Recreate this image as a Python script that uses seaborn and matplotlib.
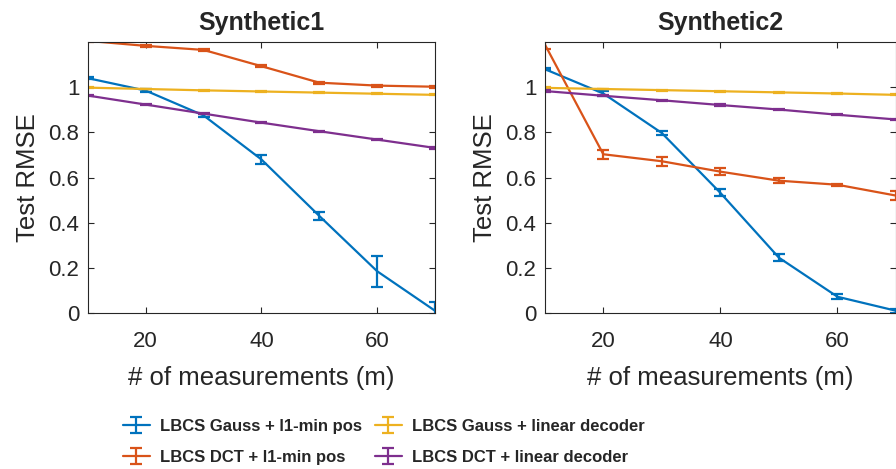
import numpy as np
import pandas as pd
import seaborn as sns
import matplotlib.pyplot as plt

# measurements
m = [10, 20, 30, 40, 50, 60, 70]

names = ['LBCS Gauss + l1-min pos', 'LBCS DCT + l1-min pos',
         'LBCS Gauss + linear decoder', 'LBCS DCT + linear decoder']
colors = ['#0072BD', '#D95319', '#EDB120', '#7E2F8E']

# Synthetic1 (mean, error)
s1_gauss_l1 = [1.04, 0.985, 0.875, 0.68, 0.43, 0.185, 0.01]
s1_gauss_l1_err = [0.004, 0.006, 0.008, 0.018, 0.018, 0.068, 0.04]
s1_dct_l1 = [1.205, 1.183, 1.165, 1.093, 1.02, 1.007, 1.002]
s1_dct_l1_err = [0.004, 0.005, 0.005, 0.005, 0.005, 0.004, 0.004]
s1_gauss_lin = [0.998, 0.992, 0.986, 0.981, 0.976, 0.971, 0.966]
s1_gauss_lin_err = [0.002, 0.002, 0.002, 0.002, 0.002, 0.002, 0.002]
s1_dct_lin = [0.963, 0.923, 0.883, 0.843, 0.805, 0.768, 0.731]
s1_dct_lin_err = [0.003, 0.003, 0.003, 0.003, 0.003, 0.003, 0.003]

# Synthetic2 (mean, error)
s2_gauss_l1 = [1.08, 0.972, 0.797, 0.532, 0.245, 0.072, 0.01]
s2_gauss_l1_err = [0.004, 0.01, 0.01, 0.015, 0.015, 0.01, 0.008]
s2_dct_l1 = [1.19, 0.703, 0.672, 0.626, 0.586, 0.568, 0.52]
s2_dct_l1_err = [0.02, 0.02, 0.02, 0.015, 0.01, 0.005, 0.02]
s2_gauss_lin = [0.997, 0.992, 0.987, 0.982, 0.977, 0.972, 0.966]
s2_gauss_lin_err = [0.002, 0.002, 0.002, 0.002, 0.002, 0.002, 0.002]
s2_dct_lin = [0.983, 0.962, 0.942, 0.921, 0.901, 0.878, 0.857]
s2_dct_lin_err = [0.003, 0.003, 0.003, 0.003, 0.003, 0.003, 0.003]

panels = [
    ('Synthetic1', [(s1_gauss_l1, s1_gauss_l1_err), (s1_dct_l1, s1_dct_l1_err),
                    (s1_gauss_lin, s1_gauss_lin_err), (s1_dct_lin, s1_dct_lin_err)]),
    ('Synthetic2', [(s2_gauss_l1, s2_gauss_l1_err), (s2_dct_l1, s2_dct_l1_err),
                    (s2_gauss_lin, s2_gauss_lin_err), (s2_dct_lin, s2_dct_lin_err)]),
]

sns.set_theme(style='ticks')
plt.rcParams['font.family'] = ['Liberation Sans', 'DejaVu Sans']
ink = '#262626'

fig = plt.figure(figsize=(8.96, 4.69), dpi=100)
axes = [fig.add_axes([0.098, 0.3326, 0.3875, 0.5778]),
        fig.add_axes([0.608, 0.3326, 0.392, 0.5778])]

handles = []
for ax, (title, series) in zip(axes, panels):
    hs = []
    for name, col, (y, e) in zip(names, colors, series):
        df = pd.DataFrame({'m': m, 'rmse': y})
        sns.lineplot(data=df, x='m', y='rmse', ax=ax, color=col, lw=1.6,
                     legend=False)
        line = ax.lines[-1]
        eb = ax.errorbar(m, y, yerr=e, fmt='none', ecolor=col, elinewidth=1.6,
                         capsize=4.5, capthick=1.6)
        hs.append((line, eb))
    handles = hs
    ax.set_xlim(10, 70)
    ax.set_ylim(0, 1.2)
    ax.set_xticks([20, 40, 60])
    ax.set_yticks([0, 0.2, 0.4, 0.6, 0.8, 1.0])
    ax.set_yticklabels(['0', '0.2', '0.4', '0.6', '0.8', '1'])
    ax.tick_params(direction='in', top=True, right=True, labelsize=16,
                   colors=ink, length=4, width=0.8)
    ax.tick_params(axis='x', pad=13)
    ax.tick_params(axis='y', pad=6)
    for s in ax.spines.values():
        s.set_color(ink)
        s.set_linewidth(0.8)
    ax.set_xlabel('# of measurements (m)', fontsize=18.5, color=ink, labelpad=10)
    ax.set_ylabel('Test RMSE', fontsize=18.5, color=ink, labelpad=6)
    ax.set_title(title, fontsize=18, fontweight='bold', pad=9)

leg = fig.legend(handles, names, loc='center left',
                 bbox_to_anchor=(0.1373, 0.058), ncol=2, frameon=False,
                 prop={'size': 12, 'weight': 'bold'},
                 handlelength=1.6, handletextpad=0.6, columnspacing=0.8,
                 labelspacing=0.95, borderpad=0, borderaxespad=0)

fig.savefig('out.png', dpi=100)
